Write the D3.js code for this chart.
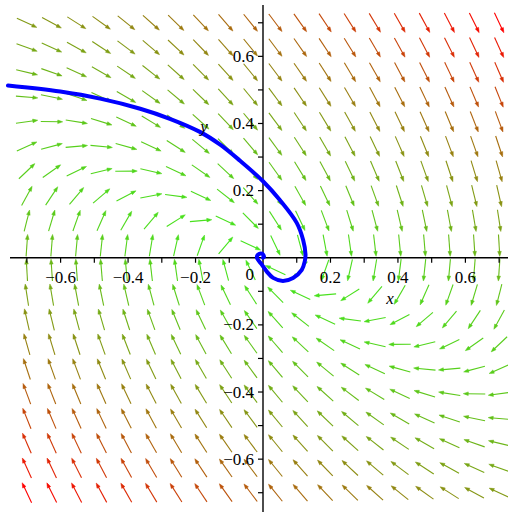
<!DOCTYPE html>
<html>
<head>
<meta charset="utf-8">
<script src="https://cdn.jsdelivr.net/npm/d3@7"></script>
<style>
html,body{margin:0;padding:0;background:#fff;overflow:hidden;}
svg{display:block;}
</style>
</head>
<body>
<svg id="chart" width="508" height="512"></svg>
<script>
// Linear system  x' = sysX[0]*x + sysX[1]*y ,  y' = sysY[0]*x + sysY[1]*y
const sysX = [0, 1];
const sysY = [-0.82, -1.28];

// arrow grid positions (20 x 20)
const gridX = [-0.7,-0.6263,-0.5526,-0.4789,-0.4053,-0.3316,-0.2579,-0.1842,-0.1105,-0.0368,0.0368,0.1105,0.1842,0.2579,0.3316,0.4053,0.4789,0.5526,0.6263,0.7];
const gridY = gridX.slice();

// solution curve
const curveX = [-0.756,-0.601,-0.483,-0.364,-0.276,-0.187,-0.127,-0.068,0,0.05,0.10,0.119,0.126,0.124,0.115,0.089,0.059,0.03,0.012,-0.003,-0.018,-0.015,-0.003,0.003,0];
const curveY = [0.513,0.495,0.474,0.444,0.414,0.375,0.337,0.289,0.228,0.172,0.104,0.053,0.01,-0.01,-0.036,-0.06,-0.069,-0.06,-0.042,-0.021,0,0.009,0.012,0.003,0];

// tick labels
const xTickVals = [-0.6,-0.4,-0.2,0.2,0.4,0.6];
const yTickVals = [-0.6,-0.4,-0.2,0.2,0.4,0.6];
const minorTicks = [-0.7,-0.6,-0.5,-0.4,-0.3,-0.2,-0.1,0.1,0.2,0.3,0.4,0.5,0.6,0.7];

const svg = d3.select("#chart");
const x = d3.scaleLinear().domain([-0.75, 0.75]).range([10, 516]);
const y = d3.scaleLinear().domain([-0.75, 0.75]).range([509.5, 6]);

// field
const pts = [];
gridX.forEach(gx => gridY.forEach(gy => {
  const u = sysX[0]*gx + sysX[1]*gy;
  const v = sysY[0]*gx + sysY[1]*gy;
  pts.push({gx, gy, u, v, k: Math.pow(u*u + v*v, 0.75)});
}));
const kExt = d3.extent(pts, d => d.k);
const col = d3.scaleLinear().domain(kExt).range(["rgb(70,228,30)", "rgb(255,0,0)"]).interpolate(d3.interpolateRgb);

const L = 22, HL = 5, HW = 1.8;
const g = svg.append("g");
pts.forEach(p => {
  const cx = x(p.gx), cy = y(p.gy);
  const dx = p.u, dy = -p.v;
  const n = Math.hypot(dx, dy) || 1;
  const ux = dx/n, uy = dy/n;
  const x0 = cx - ux*L/2, y0 = cy - uy*L/2;
  const x1 = cx + ux*L/2, y1 = cy + uy*L/2;
  const c = col(p.k);
  g.append("line").attr("x1", x0).attr("y1", y0).attr("x2", x1 - ux*2).attr("y2", y1 - uy*2)
    .attr("stroke", c).attr("stroke-width", 1.1);
  const bx = x1 - ux*HL, by = y1 - uy*HL;
  g.append("path")
    .attr("d", `M${x1},${y1}L${bx - uy*HW},${by + ux*HW}L${bx + uy*HW},${by - ux*HW}Z`)
    .attr("fill", c).attr("stroke", c).attr("stroke-width", 0.5);
});

// axes
const ax = svg.append("g").attr("stroke", "#000").attr("stroke-width", 1.4);
ax.append("line").attr("x1", 10).attr("x2", 508).attr("y1", y(0)).attr("y2", y(0));
ax.append("line").attr("x1", x(0)).attr("x2", x(0)).attr("y1", 5).attr("y2", 512);
minorTicks.forEach(t => {
  ax.append("line").attr("x1", x(t)).attr("x2", x(t)).attr("y1", y(0)).attr("y2", y(0) + 5).attr("stroke-width", 1.2);
  ax.append("line").attr("x1", x(0) - 5).attr("x2", x(0)).attr("y1", y(t)).attr("y2", y(t)).attr("stroke-width", 1.2);
});

// curve
const line = d3.line().x((d, i) => x(curveX[i])).y((d, i) => y(curveY[i])).curve(d3.curveCatmullRom.alpha(0.5));
svg.append("path").datum(curveX).attr("d", line)
  .attr("fill", "none").attr("stroke", "#0000ff").attr("stroke-width", 4).attr("stroke-linejoin", "round").attr("stroke-linecap", "round");

// labels
const fmt = v => (v < 0 ? "\u2212" : "") + Math.abs(v).toFixed(1);
const lab = svg.append("g").attr("font-family", "'Liberation Serif', 'Times New Roman', serif").attr("font-size", 17).attr("fill", "#000");
xTickVals.forEach(t => {
  lab.append("text").attr("x", x(t)).attr("y", y(0) + 25).attr("text-anchor", "middle").text(fmt(t));
});
yTickVals.forEach(t => {
  lab.append("text").attr("x", x(0) - 9).attr("y", y(t) + 5.5).attr("text-anchor", "end").text(fmt(t));
});
lab.append("text").attr("x", x(0) - 9).attr("y", y(0) + 22).attr("text-anchor", "end").text("0");
lab.append("text").attr("x", 390).attr("y", 304).attr("font-style", "italic").attr("text-anchor", "middle").text("x");
lab.append("text").attr("x", 204).attr("y", 132).attr("font-style", "italic").attr("text-anchor", "middle").text("y");
</script>
</body>
</html>
